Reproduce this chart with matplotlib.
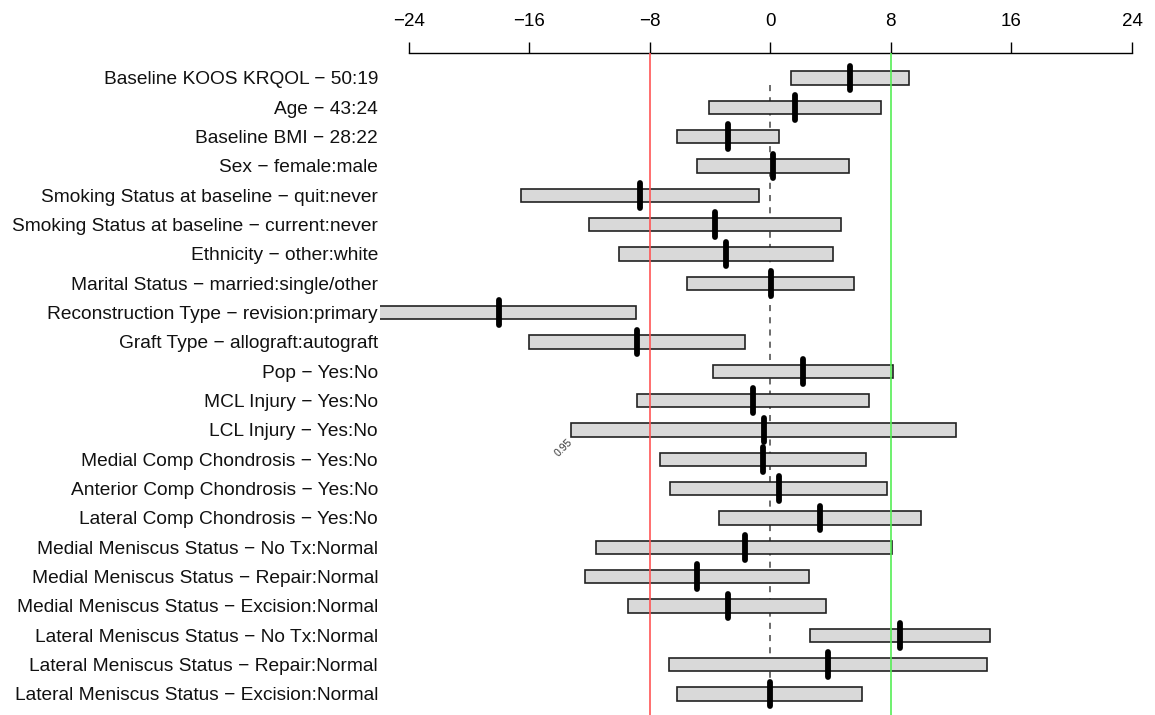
import numpy as np
import matplotlib
matplotlib.use("Agg")
import matplotlib.pyplot as plt
from matplotlib.patches import Rectangle

plt.rcParams['font.family'] = ['Liberation Sans', 'DejaVu Sans']

labels = [
    "Baseline KOOS KRQOL \u2212 50:19",
    "Age \u2212 43:24",
    "Baseline BMI \u2212 28:22",
    "Sex \u2212 female:male",
    "Smoking Status at baseline \u2212 quit:never",
    "Smoking Status at baseline \u2212 current:never",
    "Ethnicity \u2212 other:white",
    "Marital Status \u2212 married:single/other",
    "Reconstruction Type \u2212 revision:primary",
    "Graft Type \u2212 allograft:autograft",
    "Pop \u2212 Yes:No",
    "MCL Injury \u2212 Yes:No",
    "LCL Injury \u2212 Yes:No",
    "Medial Comp Chondrosis \u2212 Yes:No",
    "Anterior Comp Chondrosis \u2212 Yes:No",
    "Lateral Comp Chondrosis \u2212 Yes:No",
    "Medial Meniscus Status \u2212 No Tx:Normal",
    "Medial Meniscus Status \u2212 Repair:Normal",
    "Medial Meniscus Status \u2212 Excision:Normal",
    "Lateral Meniscus Status \u2212 No Tx:Normal",
    "Lateral Meniscus Status \u2212 Repair:Normal",
    "Lateral Meniscus Status \u2212 Excision:Normal",
]
effect = [5.31, 1.61, -2.83, 0.15, -8.63, -3.65, -2.94, 0.07, -18.01, -8.85, 2.19,
          -1.13, -0.40, -0.46, 0.60, 3.32, -1.66, -4.87, -2.83, 8.63, 3.85, -0.05]
lower = [1.39, -4.10, -6.22, -4.85, -16.53, -12.02, -10.03, -5.51, -26.5, -16.0, -3.78,
         -8.83, -13.21, -7.30, -6.64, -3.39, -11.55, -12.28, -9.41, 2.66, -6.69, -6.20]
upper = [9.23, 7.32, 0.55, 5.22, -0.73, 4.69, 4.16, 5.58, -8.94, -1.66, 8.17,
         6.57, 12.35, 6.37, 7.77, 10.03, 8.10, 2.54, 3.67, 14.59, 14.39, 6.09]
ticks = [-24, -16, -8, 0, 8, 16, 24]

W, H = 1155, 715
fig = plt.figure(figsize=(W / 100, H / 100), dpi=100)
ax = fig.add_axes([380 / W, 0, (W - 380) / W, (H - 53) / H])

n = len(labels)
rows = np.arange(1, n + 1)
px = 15.06
ax.set_xlim(-24 - (408.6 - 380) / px, 24 + (W - 1132) / px)
ax.set_ylim(n + (715 - 694) / 29.33, 1 - 25 / 29.33)

# reference line at zero (behind the boxes)
ax.plot([0, 0], [1.25, n], ls=(0, (4, 4)), color='#444444', lw=1.1, zorder=1)

bh = 0.45
for y, lo, hi, e in zip(rows, lower, upper, effect):
    ax.add_patch(Rectangle((lo, y - bh / 2), hi - lo, bh, facecolor='#d9d9d9',
                           edgecolor='#222222', lw=1.2, zorder=2, clip_on=True))
    ax.plot([e, e], [y - 0.42, y + 0.42], color='black', lw=4.2,
            solid_capstyle='round', zorder=3)

ax.axvline(-8, color='#ff5555', lw=1.2, zorder=4)
ax.axvline(8, color='#55ee55', lw=1.2, zorder=4)

ax.text(-13.21 + 0.2, 13 + 0.25, "0.95", rotation=45, fontsize=7.5,
        ha='right', va='top', color='#333333')

ax.set_yticks([])
for y, lab in zip(rows, labels):
    fig.text(378 / W, 1 - (78 + 29.33 * (y - 1)) / H, lab, ha='right',
             va='center_baseline', fontsize=13.8, color='#111111')

for s in ['left', 'right', 'bottom']:
    ax.spines[s].set_visible(False)
ax.spines['top'].set_bounds(-24, 24)
ax.spines['top'].set_linewidth(1.0)
ax.xaxis.tick_top()
ax.set_xticks(ticks)
ax.set_xticklabels([str(t).replace('-', '\u2212') for t in ticks])
ax.tick_params(axis='x', direction='out', length=8.2, width=1.0, labelsize=13.5, pad=8)

fig.savefig("out.png", dpi=100)
